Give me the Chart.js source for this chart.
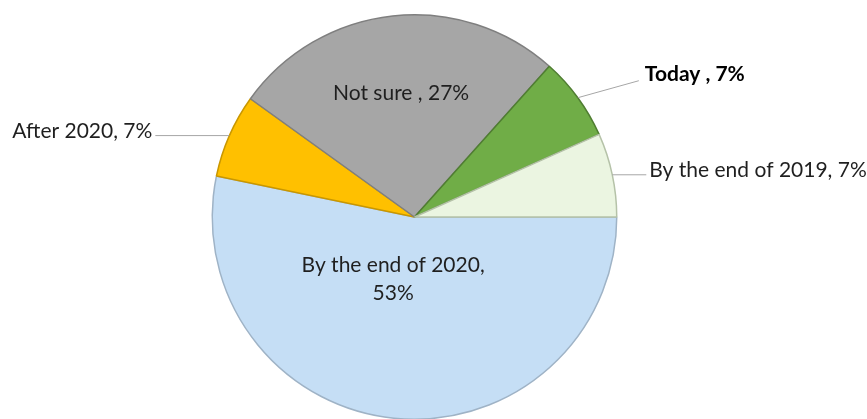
<!DOCTYPE html>
<html>
<head>
<meta charset="utf-8">
<script src="https://cdn.jsdelivr.net/npm/chart.js@4.4.0/dist/chart.umd.min.js"></script>
<style>
  html, body { margin: 0; padding: 0; background: #fff; overflow: hidden; }
  #wrap { width: 867px; height: 422px; position: relative; }
</style>
</head>
<body>
<div id="wrap"><canvas id="pieChart"></canvas></div>
<script>
// slice order starts at 3 o'clock and runs clockwise
const categories = ["By the end of 2020", "After 2020", "Not sure", "Today", "By the end of 2019"];
const shares = [53.3, 6.7, 26.7, 6.7, 6.7];
const sliceLabels = [["By the end of 2020,", "53%"], ["After 2020, 7%"], ["Not sure , 27%"], ["Today , 7%"], ["By the end of 2019, 7%"]];

const fillColors = ["#c5def5", "#ffc000", "#a6a6a6", "#70ad47", "#ebf5e1"];
const edgeColors = ["#9fb3c6", "#c99700", "#7f7f7f", "#4f7d31", "#b5c2a8"];

// where each label goes, relative to the slice
const labelLayout = [
    { inside: true, r: 0.31, nx: -15, ny: 0 },
    { inside: false, dx: -74, dy: 0, tx: -3, ty: -4, align: "right" },
    { inside: true, r: 0.614, nx: 0, ny: 0 },
    { inside: false, dx: 61, dy: -17, tx: 6, ty: -6, align: "left", bold: true },
    { inside: false, dx: 34, dy: 0, tx: 3, ty: -5, align: "left" }
];

const fontFamily = "Lato, 'Open Sans', sans-serif";

const sliceLabelPlugin = {
    id: "sliceLabels",
    afterDatasetsDraw(chart) {
        const ctx = chart.ctx;
        const meta = chart.getDatasetMeta(0);
        ctx.save();
        meta.data.forEach((arc, i) => {
            const p = arc.getProps(["x", "y", "startAngle", "endAngle", "outerRadius"], true);
            const mid = (p.startAngle + p.endAngle) / 2;
            const lay = labelLayout[i];
            const lines = sliceLabels[i];
            ctx.font = (lay.bold ? "bold " : "") + "21px " + fontFamily;
            ctx.fillStyle = lay.bold ? "#000000" : "#1f1f1f";
            ctx.textBaseline = "middle";
            if (lay.inside) {
                const cx = p.x + Math.cos(mid) * p.outerRadius * lay.r + lay.nx;
                const cy = p.y + Math.sin(mid) * p.outerRadius * lay.r + lay.ny;
                const lh = 28.5;
                ctx.textAlign = "center";
                lines.forEach((t, k) => {
                    ctx.fillText(t, cx, cy + (k - (lines.length - 1) / 2) * lh);
                });
            } else {
                const ex = p.x + Math.cos(mid) * p.outerRadius;
                const ey = p.y + Math.sin(mid) * p.outerRadius;
                const lx = ex + lay.dx;
                const ly = ey + lay.dy;
                ctx.strokeStyle = "#a6a6a6";
                ctx.lineWidth = 1;
                ctx.beginPath();
                ctx.moveTo(ex, ey);
                ctx.lineTo(lx, ly);
                ctx.stroke();
                ctx.textAlign = lay.align;
                ctx.fillText(lines[0], lx + lay.tx, ly + lay.ty);
            }
        });
        ctx.restore();
    }
};

new Chart(document.getElementById("pieChart"), {
    type: "pie",
    data: {
        labels: categories,
        datasets: [{
            data: shares,
            backgroundColor: fillColors,
            borderColor: edgeColors,
            borderWidth: 1.5
        }]
    },
    options: {
        responsive: true,
        maintainAspectRatio: false,
        animation: false,
        rotation: 90,
        layout: {
            padding: { top: 14, bottom: 2, left: 0, right: 38 }
        },
        plugins: {
            legend: { display: false },
            tooltip: { enabled: false }
        }
    },
    plugins: [sliceLabelPlugin]
});
</script>
</body>
</html>
